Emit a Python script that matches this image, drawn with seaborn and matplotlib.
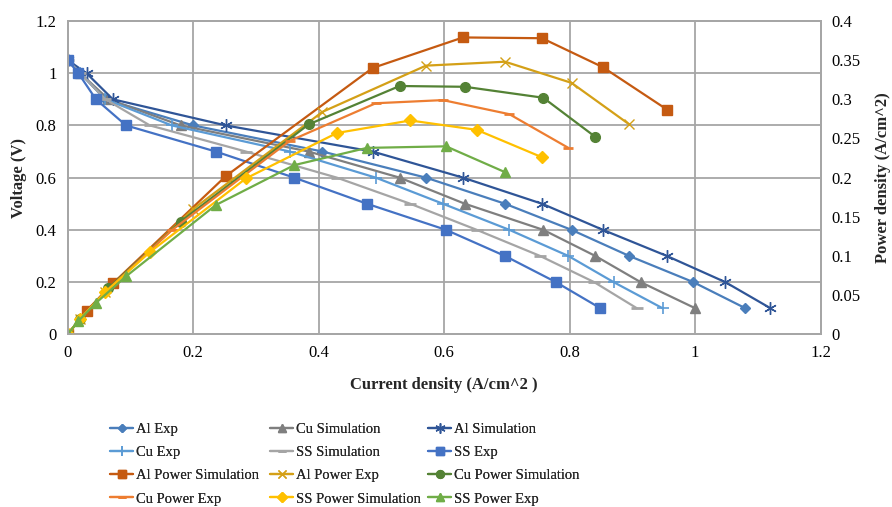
import matplotlib
matplotlib.use("Agg")
import matplotlib.pyplot as plt
import numpy as np
import pandas as pd
import seaborn as sns
from matplotlib.ticker import FuncFormatter, MultipleLocator

# --- Voltage curves (left axis) ---
volt = [1.05, 1.0, 0.9, 0.8, 0.7, 0.6, 0.5, 0.4, 0.3, 0.2, 0.1]

al_exp_x = [0, 0.02, 0.06, 0.2, 0.406, 0.571, 0.697, 0.803, 0.895, 0.997, 1.08]
cu_sim_x = [0, 0.02, 0.065, 0.18, 0.384, 0.529, 0.633, 0.758, 0.841, 0.913, 1.0]
al_sim_x = [0, 0.03, 0.072, 0.252, 0.486, 0.63, 0.756, 0.853, 0.955, 1.048, 1.12]
cu_exp_x = [0, 0.02, 0.06, 0.166, 0.354, 0.491, 0.598, 0.704, 0.798, 0.87, 0.948]
ss_sim_x = [0, 0.02, 0.06, 0.131, 0.284, 0.429, 0.546, 0.652, 0.753, 0.839, 0.907]
ss_exp_x = [0, 0.017, 0.045, 0.093, 0.236, 0.361, 0.477, 0.603, 0.697, 0.778, 0.849]

# --- Power curves (right axis) ---
al_pow_sim_x = [0, 0.03, 0.072, 0.252, 0.486, 0.63, 0.756, 0.853, 0.955]
al_pow_sim_y = [0, 0.030, 0.065, 0.202, 0.340, 0.379, 0.378, 0.341, 0.287]
al_pow_exp_x = [0, 0.02, 0.06, 0.2, 0.406, 0.571, 0.697, 0.803, 0.895]
al_pow_exp_y = [0, 0.02, 0.054, 0.16, 0.284, 0.343, 0.348, 0.321, 0.268]
cu_pow_sim_x = [0, 0.02, 0.065, 0.18, 0.384, 0.529, 0.633, 0.758, 0.841]
cu_pow_sim_y = [0, 0.02, 0.059, 0.144, 0.268, 0.317, 0.316, 0.302, 0.252]
cu_pow_exp_x = [0, 0.02, 0.06, 0.166, 0.354, 0.491, 0.598, 0.704, 0.798]
cu_pow_exp_y = [0, 0.02, 0.054, 0.133, 0.247, 0.295, 0.299, 0.281, 0.238]
ss_pow_sim_x = [0, 0.02, 0.06, 0.131, 0.284, 0.429, 0.546, 0.652, 0.756]
ss_pow_sim_y = [0, 0.02, 0.054, 0.105, 0.199, 0.257, 0.273, 0.261, 0.226]
ss_pow_exp_x = [0, 0.017, 0.045, 0.093, 0.236, 0.361, 0.477, 0.603, 0.697]
ss_pow_exp_y = [0, 0.017, 0.04, 0.074, 0.165, 0.216, 0.238, 0.24, 0.207]

sns.set_theme(style="white")
plt.rcParams['font.family'] = ['Liberation Serif', 'DejaVu Serif']

fig = plt.figure(figsize=(8.92, 5.07), dpi=100)
ax = fig.add_axes([0.0759, 0.3406, 0.8441, 0.618])
ax2 = ax.twinx()

grid_c = '#A6A6A6'


def draw(axis, x, y, label, color, marker, ms, mew=1.0):
    sns.lineplot(x=x, y=y, ax=axis, sort=False, estimator=None, color=color,
                 marker=marker, markersize=ms, markeredgecolor=color,
                 markerfacecolor=color, markeredgewidth=mew, linewidth=1.6,
                 label=label, legend=False)


star = (6, 2, 0)
draw(ax, al_exp_x, volt, 'Al Exp', '#4A7EBB', 'D', 5)
draw(ax, cu_sim_x, volt, 'Cu Simulation', '#7F7F7F', '^', 7)
draw(ax, al_sim_x, volt, 'Al Simulation', '#2F5597', star, 9, 1.0)
draw(ax, cu_exp_x, volt, 'Cu Exp', '#5B9BD5', '+', 9, 1.2)
draw(ax, ss_sim_x, volt, 'SS Simulation', '#A5A5A5', '_', 8, 2.0)
draw(ax, ss_exp_x, volt, 'SS Exp', '#4472C4', 's', 7)

draw(ax2, al_pow_sim_x, al_pow_sim_y, 'Al Power Simulation', '#C55A11', 's', 7)
draw(ax2, al_pow_exp_x, al_pow_exp_y, 'Al Power Exp', '#D4A017', 'x', 7, 1.0)
draw(ax2, cu_pow_sim_x, cu_pow_sim_y, 'Cu Power Simulation', '#548235', 'o', 7)
draw(ax2, cu_pow_exp_x, cu_pow_exp_y, 'Cu Power Exp', '#ED7D31', '_', 7, 2.0)
draw(ax2, ss_pow_sim_x, ss_pow_sim_y, 'SS Power Simulation', '#FFC000', 'D', 6)
draw(ax2, ss_pow_exp_x, ss_pow_exp_y, 'SS Power Exp', '#70AD47', '^', 7)

fmt = FuncFormatter(lambda v, p: f"{v:g}")
ax.set_xlim(0, 1.2)
ax.set_ylim(0, 1.2)
ax2.set_ylim(0, 0.4)
ax.xaxis.set_major_locator(MultipleLocator(0.2))
ax.yaxis.set_major_locator(MultipleLocator(0.2))
ax2.yaxis.set_major_locator(MultipleLocator(0.05))
ax.xaxis.set_major_formatter(fmt)
ax.yaxis.set_major_formatter(fmt)
ax2.yaxis.set_major_formatter(fmt)

ax.grid(True, color=grid_c, linewidth=1.3)
ax.set_axisbelow(True)
for a in (ax, ax2):
    for s in a.spines.values():
        s.set_color(grid_c)
        s.set_linewidth(1.3)
    a.tick_params(length=0, labelsize=12, colors='black', pad=8)

ax.set_xlabel('Current density (A/cm^2 )', fontsize=12, fontweight='bold', labelpad=11)
ax.set_ylabel('Voltage (V)', fontsize=12, fontweight='bold', labelpad=6)
ax2.set_ylabel('Power density (A/cm^2)', fontsize=12, fontweight='bold', labelpad=10)

# legend: three separate columns placed like the Excel legend
h1, l1 = ax.get_legend_handles_labels()
h2, l2 = ax2.get_legend_handles_labels()
hmap = dict(zip(l1 + l2, h1 + h2))
columns = [['Al Exp', 'Cu Exp', 'Al Power Simulation', 'Cu Power Exp'],
           ['Cu Simulation', 'SS Simulation', 'Al Power Exp', 'SS Power Simulation'],
           ['Al Simulation', 'SS Exp', 'Cu Power Simulation', 'SS Power Exp']]
col_x = [110, 270, 428]
for cx, names in zip(col_x, columns):
    leg = fig.legend([hmap[k] for k in names], names, loc='upper left',
                     bbox_to_anchor=(cx / 892, 1 - 423 / 507), bbox_transform=fig.transFigure,
                     frameon=False, fontsize=10.5, handlelength=1.6, handletextpad=0.2,
                     labelspacing=0.68, borderpad=0, borderaxespad=0, markerscale=0.8)
    fig.add_artist(leg)

fig.savefig('out.png', dpi=100)
